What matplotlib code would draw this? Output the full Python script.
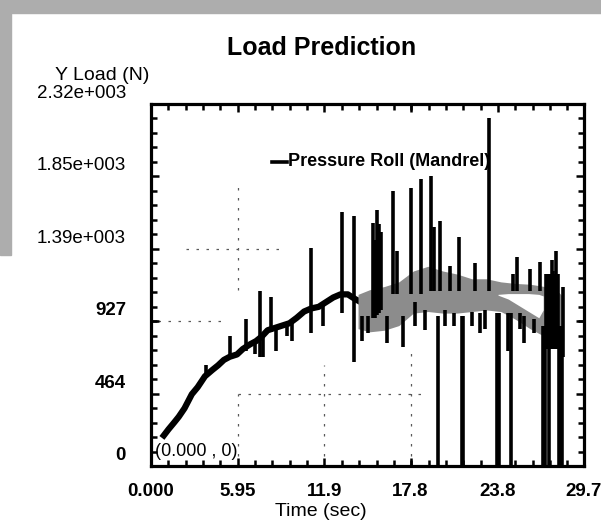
import matplotlib
matplotlib.use("Agg")
import matplotlib.pyplot as plt
import matplotlib.transforms as mtransforms
from matplotlib.patches import Rectangle
from matplotlib.ticker import AutoMinorLocator

# ---------------- data ----------------
# slowly varying part of the load trace (black)
base_t = [0.75, 1.2, 1.6, 1.9, 2.3, 2.8, 3.2, 3.7, 4.2, 4.6, 5.0, 5.4, 5.9, 6.3, 6.8, 7.2,
          7.6, 8.0, 8.5, 9.0, 9.5, 10.0, 10.5, 11.0, 11.5, 12.0, 12.5, 13.0, 13.5, 14.0, 14.4]
base_y = [180, 235, 280, 315, 370, 460, 505, 575, 615, 645, 680, 700, 715, 750, 780, 800,
          830, 870, 885, 900, 915, 950, 990, 1010, 1020, 1050, 1080, 1100, 1100, 1070, 1050]

# short excursions of the trace: time, low end, high end
spike_t = [3.75, 5.4, 6.5, 7.1, 7.5, 7.7, 8.2, 8.6, 9.3, 9.7, 11.0, 11.8, 13.1, 13.9,
           14.5, 14.9, 15.2, 15.35, 15.5, 15.65, 15.8, 16.2, 16.6, 16.9, 17.3, 17.8, 18.1,
           18.5, 18.8, 19.2, 19.4, 19.7, 19.8, 20.2, 20.5, 20.8, 21.1, 21.3, 21.4, 22.0,
           22.2, 22.6, 22.9, 23.2, 23.7, 23.9, 24.5, 24.7, 24.8, 25.1, 25.3, 25.6, 26.0,
           26.3, 26.7, 26.9, 27.0, 27.1, 27.2, 27.3, 27.4, 27.5, 27.6, 27.7, 27.8, 27.9,
           28.0, 28.1, 28.2, 28.25]
spike_lo = [570, 690, 740, 720, 700, 700, 860, 740, 830, 800, 850, 900, 980, 665,
            800, 850, 950, 950, 970, 980, 1000, 790, 1100, 1100, 760, 1100, 900,
            1100, 870, 1120, 1120, 0, 1120, 900, 1120, 900, 1120, 0, 0, 900,
            1120, 850, 880, 1120, 0, 0, 740, 0, 1120, 1120, 880, 790, 1120,
            850, 1120, 0, 0, 750, 750, 0, 750, 750, 750, 750, 750, 750,
            0, 0, 0, 700]
spike_hi = [650, 830, 940, 800, 1120, 850, 1080, 880, 905, 930, 1400, 1030, 1630, 1600,
            960, 960, 1560, 1450, 1640, 1550, 1500, 960, 1760, 1380, 960, 1780, 1050,
            1840, 1000, 1860, 1530, 960, 1570, 1000, 1280, 980, 1470, 960, 960, 990,
            1300, 980, 1000, 2230, 980, 980, 980, 980, 1230, 1340, 980, 960, 1260,
            940, 1310, 900, 900, 1230, 1230, 900, 1230, 1320, 1250, 1230, 1380, 1230,
            900, 900, 900, 1150]

# dense oscillation band (appears grey in the plot)
band_t = [14.2, 15.0, 16.0, 17.0, 18.0, 19.0, 20.0, 21.0, 22.0, 23.0, 24.0, 25.0, 26.0, 27.0, 28.0, 28.3]
band_lo = [880, 860, 870, 900, 980, 990, 980, 980, 990, 1000, 990, 940, 880, 830, 800, 800]
band_hi = [1100, 1130, 1150, 1180, 1250, 1280, 1250, 1230, 1200, 1200, 1180, 1170, 1165, 1150, 1110, 1080]
# white gap inside the band
gap_t = [23.8, 24.5, 25.2, 25.9, 26.6, 26.9]
gap_lo = [1095, 1070, 1030, 990, 950, 1000]
gap_hi = [1100, 1105, 1105, 1105, 1100, 1090]

x_ticks = [0.0, 5.95, 11.9, 17.8, 23.8, 29.7]
x_labels = ["0.000", "5.95", "11.9", "17.8", "23.8", "29.7"]
y_ticks = [0, 464, 927, 1392, 1856, 2320]
y_labels = ["0", "464", "927", "1.39e+003", "1.85e+003", "2.32e+003"]

series_name = "Pressure Roll (Mandrel)"

# partial dashed grid pieces visible in the scan: (value, from, to)
grid_h = [(1392, 2.4, 9.0), (927, 0.5, 5.1), (464, 5.95, 18.7)]
grid_v = [(5.95, 1130, 1810), (5.95, 0, 464), (11.9, 0, 650), (17.8, 0, 740)]

# ---------------- figure ----------------
FONT = ["Liberation Sans", "DejaVu Sans"]
plt.rcParams["font.family"] = FONT

W, H = 601, 522
fig = plt.figure(figsize=(W / 100, H / 100), dpi=100)
fig.patch.set_facecolor("white")

def px(x0, y0, x1, y1):
    return [x0 / W, 1 - y1 / H, (x1 - x0) / W, (y1 - y0) / H]

ax = fig.add_axes(px(151, 104, 584, 466))
ax.set_xlim(0, 29.7)
ax.set_ylim(0, 2320)

# scan border shading
fig.patches.append(Rectangle((0, 1 - 13 / H), 1, 13 / H, transform=fig.transFigure,
                             color="0.68", zorder=0))
fig.patches.append(Rectangle((0, 1 - 255 / H), 11 / W, 255 / H, transform=fig.transFigure,
                             color="0.68", zorder=0))

for v, a, b in grid_h:
    ax.plot([a, b], [v, v], color="0.35", lw=0.9, dashes=(2, 6), zorder=1)
for v, a, b in grid_v:
    ax.plot([v, v], [a, b], color="0.35", lw=0.9, dashes=(2, 6), zorder=1)

ax.plot(base_t, base_y, color="black", lw=4.5, zorder=2, solid_capstyle="butt")
ax.fill_between(band_t, band_lo, band_hi, color="0.55", lw=0, zorder=2.5)
ax.fill_between(gap_t, gap_lo, gap_hi, color="white", lw=0, zorder=2.6)
ax.vlines(spike_t, spike_lo, spike_hi, color="black", lw=2.6, zorder=3)

# legend-like label
ax.plot([8.3, 9.3], [1950, 1950], color="black", lw=2.6, zorder=4, clip_on=False)
ax.text(9.4, 1950, series_name, fontsize=13, fontweight="bold", va="center", ha="left",
        zorder=4)

ax.text(0.3, 90, "(0.000 , 0)", fontsize=13, va="center", ha="left", zorder=4)

# axes styling
for s in ax.spines.values():
    s.set_linewidth(2.3)
ax.set_xticks(x_ticks)
ax.set_xticklabels(x_labels)
ax.set_yticks(y_ticks)
ax.set_yticklabels(y_labels)
ax.xaxis.set_minor_locator(AutoMinorLocator(5))
ax.yaxis.set_minor_locator(AutoMinorLocator(5))
ax.tick_params(which="both", direction="in", top=True, right=True, width=1.8)
ax.tick_params(which="major", length=6)
ax.tick_params(which="minor", length=4)
ax.tick_params(axis="x", which="major", pad=12, labelsize=13.5)
ax.tick_params(axis="y", which="major", pad=18, labelsize=13.5)
for lab in ax.get_xticklabels():
    lab.set_fontweight("bold")
for lab in ax.get_yticklabels():
    if "e" not in lab.get_text():
        lab.set_fontweight("bold")
off = mtransforms.ScaledTranslation(0, 0.125, fig.dpi_scale_trans)
for lab in ax.get_yticklabels():
    lab.set_transform(lab.get_transform() + off)

fig.text(322 / W, 1 - 48 / H, "Load Prediction", fontsize=18, fontweight="bold",
         ha="center", va="center")
fig.text(102 / W, 1 - 75 / H, "Y Load (N)", fontsize=14, ha="center", va="center")
fig.text(321 / W, 1 - 511 / H, "Time (sec)", fontsize=14, ha="center", va="center")

fig.savefig("out.png", dpi=100)
